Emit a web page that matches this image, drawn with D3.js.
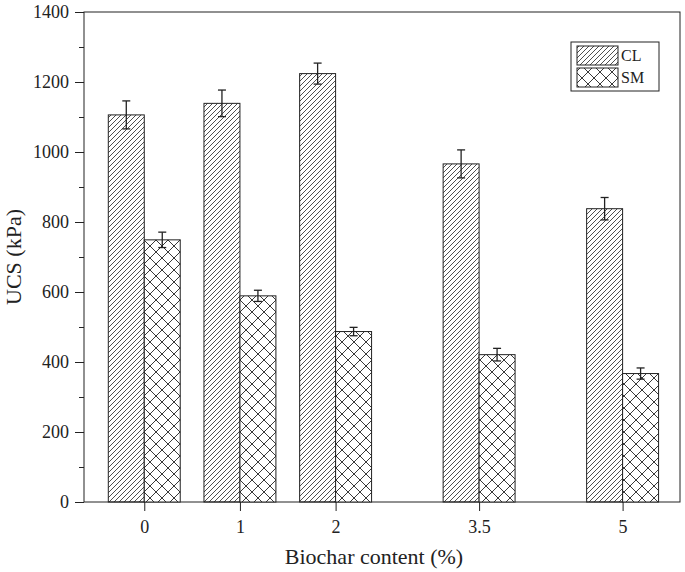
<script src="https://d3js.org/d3.v7.min.js"></script>
<style>
  body { margin: 0; background: #fff; }
  text { font-family: 'Liberation Serif', 'Times New Roman', serif; fill: #222; }
</style>
<div id="chart"></div>
<script>
  // values
  var contents = [0, 1, 2, 3.5, 5];
  var clValues = [1106, 1139, 1224, 966, 838];
  var clErrors = [40, 38, 30, 40, 32];
  var smValues = [749, 589, 487, 421, 367];
  var smErrors = [22, 16, 12, 18, 16];
  var yTicks = [0, 200, 400, 600, 800, 1000, 1200, 1400];

  var margin = { top: 12, right: 5, bottom: 70, left: 84 },
    width = 685 - margin.left - margin.right,
    height = 572 - margin.top - margin.bottom;

  var svg = d3.select("#chart")
    .append("svg")
    .attr("width", 685)
    .attr("height", 572);

  // patterns
  var defs = svg.append("defs");
  defs.append("pattern")
    .attr("id", "hatch")
    .attr("patternUnits", "userSpaceOnUse")
    .attr("width", 5).attr("height", 5)
    .append("path")
    .attr("d", "M-1,1 L1,-1 M0,5 L5,0 M4,6 L6,4")
    .attr("stroke", "#222")
    .attr("stroke-width", 0.8);
  var cross = defs.append("pattern")
    .attr("id", "cross")
    .attr("patternUnits", "userSpaceOnUse")
    .attr("width", 12).attr("height", 12);
  cross.append("rect").attr("width", 12).attr("height", 12).attr("fill", "#fff");
  cross.append("path")
    .attr("d", "M0,0 L12,12 M0,12 L12,0")
    .attr("stroke", "#222")
    .attr("stroke-width", 0.9);

  var g = svg.append("g")
    .attr("transform", "translate(" + margin.left + "," + margin.top + ")");

  var x = d3.scaleLinear().domain([-0.63, 5.6]).range([0, width]);
  var y = d3.scaleLinear().domain([0, 1400]).range([height, 0]);
  var barW = x(0.376) - x(0);

  // frame
  g.append("rect")
    .attr("width", width).attr("height", height)
    .attr("fill", "none").attr("stroke", "#222").attr("stroke-width", 1);

  // bars
  function drawSeries(vals, errs, fill, offset) {
    g.selectAll(null)
      .data(vals)
      .enter()
      .append("rect")
      .attr("x", function (d, i) { return x(contents[i]) + offset * barW; })
      .attr("y", function (d) { return y(d); })
      .attr("width", barW)
      .attr("height", function (d) { return height - y(d); })
      .attr("fill", fill)
      .attr("stroke", "#222")
      .attr("stroke-width", 1);

    var eb = g.selectAll(null)
      .data(vals)
      .enter()
      .append("g")
      .attr("stroke", "#222")
      .attr("stroke-width", 1.3);
    eb.append("line")
      .attr("x1", function (d, i) { return x(contents[i]) + (offset + 0.5) * barW; })
      .attr("x2", function (d, i) { return x(contents[i]) + (offset + 0.5) * barW; })
      .attr("y1", function (d, i) { return y(d + errs[i]); })
      .attr("y2", function (d, i) { return y(d - errs[i]); });
    [1, -1].forEach(function (s) {
      eb.append("line")
        .attr("x1", function (d, i) { return x(contents[i]) + (offset + 0.5) * barW - 4; })
        .attr("x2", function (d, i) { return x(contents[i]) + (offset + 0.5) * barW + 4; })
        .attr("y1", function (d, i) { return y(d + s * errs[i]); })
        .attr("y2", function (d, i) { return y(d + s * errs[i]); });
    });
  }
  drawSeries(clValues, clErrors, "url(#hatch)", -1);
  drawSeries(smValues, smErrors, "url(#cross)", 0);

  // axes
  var yAxis = g.append("g")
    .call(d3.axisLeft(y).tickValues(yTicks).tickSize(9).tickPadding(6).tickFormat(d3.format("d")));
  yAxis.select(".domain").remove();
  yAxis.selectAll("text").style("font-size", "18px");
  g.append("g")
    .call(d3.axisLeft(y).tickValues(d3.range(100, 1400, 200)).tickSize(5).tickFormat(""))
    .select(".domain").remove();

  var xAxis = g.append("g")
    .attr("transform", "translate(0," + height + ")")
    .call(d3.axisBottom(x).tickValues(contents).tickSize(9).tickPadding(9).tickFormat(function (d) { return d; }));
  xAxis.select(".domain").remove();
  xAxis.selectAll("text").style("font-size", "18px");
  g.selectAll(".tick line").attr("stroke", "#222");

  // axis titles
  g.append("text")
    .attr("x", width / 2 - 8)
    .attr("y", height + 62)
    .attr("text-anchor", "middle")
    .style("font-size", "22px")
    .text("Biochar content (%)");
  g.append("text")
    .attr("transform", "translate(" + (-63) + "," + (height / 2) + ")rotate(-90)")
    .attr("text-anchor", "middle")
    .style("font-size", "22px")
    .text("UCS (kPa)");

  // legend
  var leg = svg.append("g");
  leg.append("rect")
    .attr("x", 571).attr("y", 42).attr("width", 88).attr("height", 49)
    .attr("fill", "#fff").attr("stroke", "#222").attr("stroke-width", 1);
  var legItems = [["CL", "url(#hatch)"], ["SM", "url(#cross)"]];
  legItems.forEach(function (it, i) {
    leg.append("rect")
      .attr("x", 577).attr("y", 46 + i * 22).attr("width", 41).attr("height", 19)
      .attr("fill", it[1]).attr("stroke", "#222").attr("stroke-width", 1);
    leg.append("text")
      .attr("x", 621).attr("y", 61 + i * 22)
      .style("font-size", "16px")
      .text(it[0]);
  });
</script>
